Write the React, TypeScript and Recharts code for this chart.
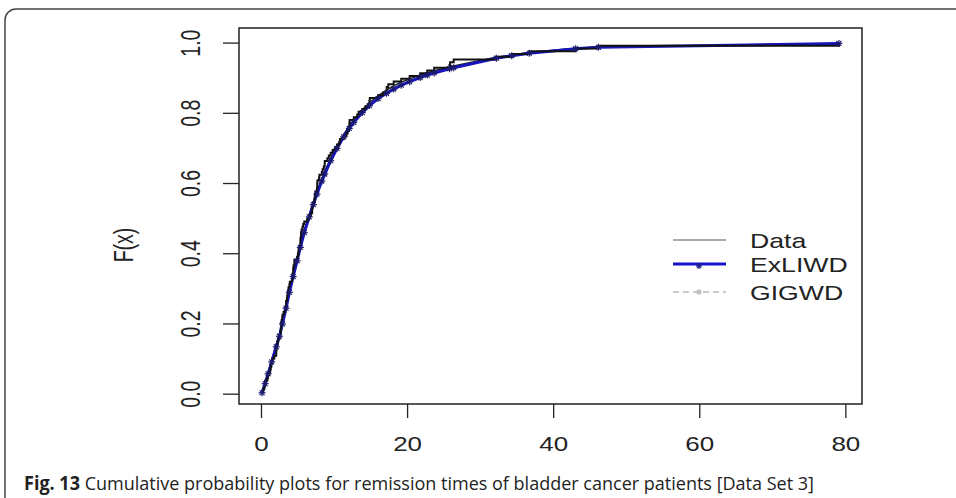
import React from 'react';
import { LineChart, Line, XAxis, YAxis, ReferenceArea } from 'recharts';

// remission times (months) of bladder cancer patients, sorted
const remissionTimes = [
  0.08, 0.2, 0.4, 0.5, 0.51, 0.81, 0.9, 1.05, 1.19, 1.26,
  1.35, 1.4, 1.46, 1.76, 2.02, 2.02, 2.07, 2.09, 2.23, 2.26,
  2.46, 2.54, 2.62, 2.64, 2.69, 2.69, 2.75, 2.83, 2.87, 3.02,
  3.25, 3.31, 3.36, 3.36, 3.48, 3.52, 3.57, 3.64, 3.7, 3.82,
  3.88, 4.18, 4.23, 4.26, 4.33, 4.34, 4.4, 4.5, 4.51, 4.87,
  4.98, 5.06, 5.09, 5.17, 5.32, 5.32, 5.34, 5.41, 5.41, 5.49,
  5.62, 5.71, 5.85, 6.25, 6.54, 6.76, 6.93, 6.94, 6.97, 7.09,
  7.26, 7.28, 7.32, 7.39, 7.59, 7.62, 7.63, 7.66, 7.87, 7.93,
  8.26, 8.37, 8.53, 8.65, 8.66, 9.02, 9.22, 9.47, 9.74, 10.06,
  10.34, 10.66, 10.75, 11.25, 11.64, 11.79, 11.98, 12.02, 12.03, 12.07,
  12.63, 13.11, 13.29, 13.8, 14.24, 14.76, 14.77, 14.83, 15.96, 16.62,
  17.12, 17.14, 17.36, 18.1, 19.13, 20.28, 21.73, 22.69, 23.63, 25.74,
  25.82, 26.31, 32.15, 34.26, 36.66, 43.01, 46.12, 79.05
];

// points where the fitted cdfs are drawn
const fitTimes = [
  0.08, 0.5, 0.9, 1.4, 2.02, 2.46, 2.87, 3.36, 3.82, 4.33,
  4.87, 5.32, 5.85, 6.54, 7.09, 7.59, 8.26, 8.66, 9.47, 10.34,
  11.25, 12.02, 12.63, 13.8, 14.77, 15.96, 17.12, 18.1, 19.13, 20.28,
  21.73, 22.69, 23.63, 25.74, 26.31, 32.15, 34.26, 36.66, 43.01, 46.12, 79.05
];
const exliwdCdf = [
  0.004, 0.03, 0.058, 0.092, 0.135, 0.165, 0.2, 0.245, 0.29, 0.335,
  0.38, 0.418, 0.46, 0.505, 0.54, 0.57, 0.607, 0.627, 0.665, 0.7,
  0.733, 0.757, 0.774, 0.802, 0.822, 0.842, 0.857, 0.869, 0.88, 0.89,
  0.902, 0.909, 0.915, 0.927, 0.93, 0.957, 0.964, 0.971, 0.984, 0.988, 0.999
];
const gigwdCdf = [
  0.005, 0.033, 0.062, 0.097, 0.141, 0.172, 0.207, 0.252, 0.297, 0.342,
  0.387, 0.425, 0.467, 0.512, 0.547, 0.577, 0.614, 0.634, 0.672, 0.707,
  0.74, 0.764, 0.781, 0.81, 0.83, 0.85, 0.866, 0.878, 0.889, 0.898,
  0.909, 0.915, 0.921, 0.932, 0.935, 0.96, 0.966, 0.973, 0.985, 0.989, 0.999
];

const xTicks = [0, 20, 40, 60, 80];
const yTicks = [0, 0.2, 0.4, 0.6, 0.8, 1];
const yTickLabels = ['0.0', '0.2', '0.4', '0.6', '0.8', '1.0'];

const FONT = '"Liberation Sans", Arial, sans-serif';
const STRETCH = 1.3;

const empiricalData = remissionTimes.map((x, i) => ({ x, F: (i + 1) / remissionTimes.length }));
const exliwdData = fitTimes.map((x, i) => ({ x, F: exliwdCdf[i] }));
const gigwdData = fitTimes.map((x, i) => ({ x, F: gigwdCdf[i] }));

const Star = ({ cx, cy, color, r = 3.5 }) => {
  if (cx == null || cy == null) return null;
  return <g stroke={color} strokeWidth={1.2}>
      <line x1={cx - r} y1={cy} x2={cx + r} y2={cy} />
      <line x1={cx} y1={cy - r} x2={cx} y2={cy + r} />
      <line x1={cx - r * 0.7} y1={cy - r * 0.7} x2={cx + r * 0.7} y2={cy + r * 0.7} />
      <line x1={cx - r * 0.7} y1={cy + r * 0.7} x2={cx + r * 0.7} y2={cy - r * 0.7} />
    </g>;
};

const XTick = ({ x, payload }) => <text transform={`translate(${x},451) scale(${STRETCH},1)`} textAnchor="middle" fontFamily={FONT} fontSize={20} fill="#222">
    {payload.value}
  </text>;

const YTick = ({ y, payload }) => {
  const idx = yTicks.indexOf(payload.value);
  return <text transform={`translate(200,${y}) scale(1.45,1) rotate(-90)`} textAnchor="middle" fontFamily={FONT} fontSize={19.5} fill="#222">
      {yTickLabels[idx]}
    </text>;
};

export default function App() {
  return <div style={{ position: 'absolute', left: 0, top: 0, width: 956, height: 498, overflow: 'hidden', background: '#fff' }}>
      <LineChart width={956} height={498} data={empiricalData} margin={{ top: 28, right: 94, bottom: 0, left: 0 }}>
        <XAxis dataKey="x" type="number" domain={[-3.08, 82.21]} ticks={xTicks} allowDataOverflow axisLine={false} tickSize={14} tickLine={{ stroke: '#222', strokeWidth: 1.3 }} tick={<XTick />} height={94} interval={0} />
        <YAxis type="number" domain={[-0.028, 1.043]} ticks={yTicks} allowDataOverflow axisLine={false} tickSize={16} tickLine={{ stroke: '#222', strokeWidth: 1.3 }} tick={<YTick />} width={239} interval={0} />
        <ReferenceArea x1={-3.08} x2={82.21} y1={-0.028} y2={1.043} fill="none" stroke="#222" strokeWidth={1.5} />
        <Line data={gigwdData} dataKey="F" type="linear" stroke="#1a1a1a" strokeWidth={1.5} dot={false} isAnimationActive={false} />
        <Line data={exliwdData} dataKey="F" type="linear" stroke="#1515bb" strokeWidth={3} isAnimationActive={false} dot={props => <Star key={`s-${props.index}`} cx={props.cx} cy={props.cy} color="#1c1c6e" />} />
        <Line data={empiricalData} dataKey="F" type="stepAfter" stroke="#111" strokeWidth={2} dot={false} isAnimationActive={false} />
      </LineChart>
      <svg width={956} height={498} style={{ position: 'absolute', left: 0, top: 0, pointerEvents: 'none' }}>
        <rect x={5} y={9} width={1000} height={560} rx={11} fill="none" stroke="#444" strokeWidth={1.5} />
        <text transform={`translate(133,245) scale(1.4,1) rotate(-90)`} textAnchor="middle" fontFamily={FONT} fontSize={19.5} fill="#222">F(x)</text>
        <line x1={673} x2={726} y1={240} y2={240} stroke="#aaa" strokeWidth={2} />
        <line x1={673} x2={726} y1={264} y2={264} stroke="#1515cc" strokeWidth={3} />
        <Star cx={699} cy={266} color="#1c1c8e" r={3} />
        <line x1={673} x2={726} y1={292} y2={292} stroke="#bbb" strokeWidth={1.5} strokeDasharray="6 4" />
        <Star cx={699} cy={292} color="#bbb" r={3} />
        <g fontFamily={FONT} fontSize={20.5} fill="#222">
          <text transform={`translate(750,248) scale(${STRETCH},1)`}>Data</text>
          <text transform={`translate(750,272) scale(${STRETCH},1)`}>ExLIWD</text>
          <text transform={`translate(750,300) scale(${STRETCH},1)`}>GIGWD</text>
        </g>
        <text x={24} y={490} fontFamily='"Liberation Sans Narrow", "Open Sans", sans-serif' fontSize={19} fill="#222" textLength={790} lengthAdjust="spacingAndGlyphs">
          <tspan fontWeight="bold">Fig. 13</tspan> Cumulative probability plots for remission times of bladder cancer patients [Data Set 3]
        </text>
      </svg>
    </div>;
}
